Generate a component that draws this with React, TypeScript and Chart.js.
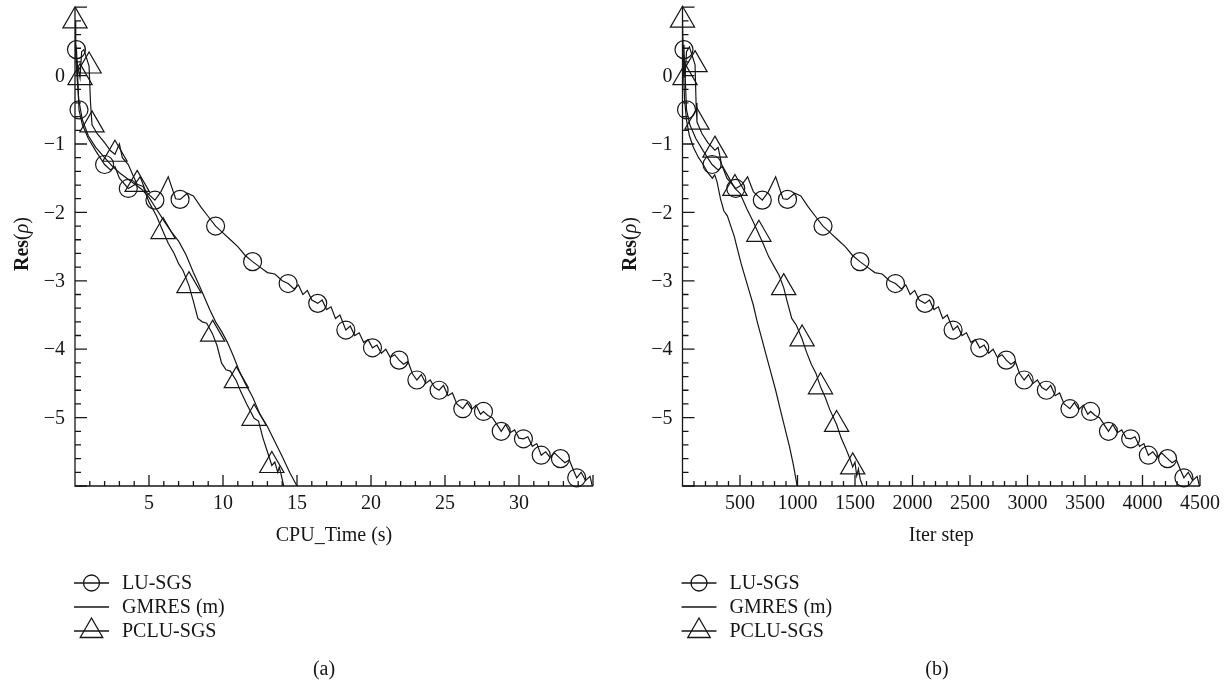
import React, { useEffect, useRef } from 'react';
import { Chart, registerables } from 'chart.js';
Chart.register(...registerables);

const FONT = '"Liberation Serif", "Times New Roman", serif';
const INK = '#161616';

// ---------- axes / labels ----------
const Y_MIN = -6;
const Y_MAX = 1;
const Y_LABELS = [0, -1, -2, -3, -4, -5];
const TIME_LABELS = [5, 10, 15, 20, 25, 30];
const ITER_LABELS = [500, 1000, 1500, 2000, 2500, 3000, 3500, 4000, 4500];
const SERIES_NAMES = ['LU-SGS', 'GMRES (m)', 'PCLU-SGS'];

// ---------- LU-SGS (same residual history, plotted vs time and vs iterations) ----------
const LU_Y = [
  0.45, 0.38, 0.0, -0.5, -0.72, -0.92, -1.1, -1.3, -1.38, -1.33, -1.5, -1.65, -1.6, -1.48, -1.7,
  -1.82, -1.7, -1.48, -1.8, -1.81, -1.72, -1.76, -1.92, -2.06, -2.2, -2.3, -2.4, -2.5, -2.63, -2.72,
  -2.8, -2.88, -2.9, -3.0, -3.04, -3.12, -3.06, -3.2, -3.14, -3.28, -3.33, -3.28, -3.42, -3.38, -3.55,
  -3.5, -3.72, -3.66, -3.8, -3.76, -3.9, -3.86, -3.98, -3.94, -4.06, -4.0, -4.12, -4.08, -4.16, -4.22,
  -4.18, -4.36, -4.45, -4.37, -4.5, -4.45, -4.56, -4.6, -4.53, -4.68, -4.64, -4.8, -4.87, -4.78, -4.88,
  -4.82, -4.95, -4.91, -4.97, -5.0, -5.1, -5.2, -5.1, -5.22, -5.18, -5.3, -5.31, -5.28, -5.42, -5.38,
  -5.55, -5.5, -5.58, -5.52, -5.6, -5.66, -5.62, -5.78, -5.88, -5.8, -5.92, -5.86, -6.0,
];
const LU_TIME = [
  0.05, 0.1, 0.18, 0.27, 0.5, 0.9, 1.4, 2.0, 2.4, 2.7, 3.0, 3.6, 4.0, 4.4, 4.8,
  5.4, 5.8, 6.3, 6.8, 7.1, 7.6, 8.0, 8.5, 9.0, 9.5, 10.0, 10.5, 11.0, 11.5, 12.0,
  12.5, 13.0, 13.5, 14.0, 14.4, 14.8, 15.1, 15.4, 15.7, 16.0, 16.4, 16.7, 17.0, 17.3, 17.6,
  17.9, 18.3, 18.6, 18.9, 19.2, 19.5, 19.8, 20.1, 20.4, 20.7, 21.0, 21.3, 21.6, 21.9, 22.2,
  22.5, 22.8, 23.1, 23.4, 23.7, 24.0, 24.3, 24.6, 24.9, 25.2, 25.5, 25.8, 26.2, 26.5, 26.8,
  27.1, 27.4, 27.6, 27.9, 28.2, 28.5, 28.8, 29.1, 29.4, 29.7, 30.0, 30.3, 30.6, 30.9, 31.2,
  31.5, 31.8, 32.1, 32.4, 32.8, 33.1, 33.4, 33.7, 33.9, 34.2, 34.5, 34.8, 34.95,
];
const LU_ITER = [
  6, 13, 23, 35, 64, 116, 180, 257, 309, 347, 386, 463, 514, 566, 617,
  694, 746, 810, 874, 913, 977, 1029, 1093, 1157, 1222, 1286, 1350, 1415, 1479, 1543,
  1608, 1672, 1736, 1800, 1852, 1903, 1942, 1980, 2019, 2058, 2109, 2148, 2186, 2225, 2263,
  2302, 2353, 2392, 2431, 2469, 2508, 2546, 2585, 2623, 2662, 2701, 2739, 2778, 2816, 2855,
  2894, 2932, 2971, 3009, 3048, 3086, 3125, 3164, 3202, 3241, 3279, 3318, 3369, 3408, 3446,
  3485, 3524, 3549, 3588, 3627, 3665, 3704, 3742, 3781, 3819, 3858, 3897, 3935, 3974, 4012,
  4051, 4089, 4128, 4167, 4218, 4257, 4295, 4334, 4360, 4398, 4437, 4475, 4495,
];
const LU_MARK_Y = [0.38, -0.5, -1.3, -1.65, -1.82, -1.81, -2.2, -2.72, -3.04, -3.33, -3.72, -3.98, -4.16, -4.45, -4.6, -4.87, -4.91, -5.2, -5.31, -5.55, -5.6, -5.88];
const LU_MARK_TIME = [0.1, 0.27, 2.0, 3.6, 5.4, 7.1, 9.5, 12.0, 14.4, 16.4, 18.3, 20.1, 21.9, 23.1, 24.6, 26.2, 27.6, 28.8, 30.3, 31.5, 32.8, 33.9];
const LU_MARK_ITER = [13, 35, 257, 463, 694, 913, 1222, 1543, 1852, 2109, 2353, 2585, 2816, 2971, 3164, 3369, 3549, 3704, 3897, 4051, 4218, 4360];

// ---------- GMRES (m) ----------
const GM_TIME = [0.0, 0.1, 0.25, 0.5, 0.9, 1.4, 2.0, 2.5, 3.0, 3.5, 4.0, 4.5, 5.0, 5.5, 6.0, 6.5, 7.0, 7.5, 8.0, 8.3, 8.7, 9.1, 9.5, 9.9, 10.3, 10.7, 11.1, 11.5, 12.0, 12.5, 13.0, 13.5, 14.0, 14.5, 15.0];
const GM_TIME_Y = [0.55, 0.1, -0.35, -0.65, -0.88, -1.05, -1.2, -1.32, -1.42, -1.5, -1.58, -1.66, -1.78, -1.95, -2.12, -2.28, -2.42, -2.62, -2.88, -3.02, -3.22, -3.42, -3.6, -3.74, -3.9, -4.1, -4.32, -4.5, -4.7, -4.95, -5.13, -5.35, -5.57, -5.8, -6.0];
const GM_ITER = [0, 8, 18, 35, 60, 95, 140, 180, 220, 260, 280, 300, 330, 360, 390, 420, 450, 475, 510, 545, 580, 615, 650, 690, 730, 770, 810, 850, 890, 930, 965, 997];
const GM_ITER_Y = [0.55, 0.1, -0.35, -0.65, -0.88, -1.05, -1.2, -1.3, -1.42, -1.5, -1.45, -1.55, -1.8, -1.98, -2.05, -2.2, -2.35, -2.52, -2.75, -2.95, -3.15, -3.35, -3.6, -3.85, -4.1, -4.35, -4.6, -4.88, -5.15, -5.42, -5.7, -6.0];

// ---------- PCLU-SGS ----------
const PC_TIME = [0.0, 0.05, 0.34, 0.45, 0.6, 0.95, 1.05, 1.15, 1.5, 2.0, 2.4, 2.7, 3.0, 3.2, 3.6, 3.9, 4.2, 4.6, 5.0, 5.5, 5.95, 6.3, 6.7, 7.0, 7.3, 7.7, 8.0, 8.3, 8.6, 8.9, 9.3, 9.6, 9.9, 10.2, 10.5, 10.9, 11.2, 11.6, 12.1, 12.4, 12.7, 13.0, 13.3, 13.5, 13.7, 13.8, 14.0, 14.1];
const PC_TIME_Y = [0.8, 0.3, -0.03, 0.35, 0.38, 0.14, -0.4, -0.72, -0.85, -0.98, -1.1, -1.15, -1.0, -1.2, -1.3, -1.45, -1.59, -1.62, -1.85, -2.05, -2.28, -2.45, -2.6, -2.75, -2.85, -3.07, -3.3, -3.55, -3.6, -3.62, -3.78, -3.95, -4.2, -4.3, -4.32, -4.46, -4.62, -4.8, -5.01, -5.05, -5.3, -5.5, -5.7, -5.65, -5.8, -5.72, -5.9, -6.0];
const PC_ITER = [0, 5, 22, 35, 60, 109, 118, 126, 170, 220, 282, 310, 340, 400, 456, 500, 560, 610, 664, 700, 750, 800, 840, 880, 910, 950, 990, 1040, 1080, 1120, 1160, 1200, 1240, 1280, 1340, 1380, 1420, 1460, 1480, 1500, 1515, 1530, 1545, 1567];
const PC_ITER_Y = [0.81, 0.3, -0.03, 0.35, 0.42, 0.16, -0.4, -0.68, -0.85, -0.98, -1.09, -1.05, -1.3, -1.48, -1.65, -1.72, -1.95, -2.12, -2.32, -2.45, -2.65, -2.8, -2.92, -3.1, -3.3, -3.55, -3.65, -3.85, -4.05, -4.22, -4.35, -4.55, -4.7, -4.88, -5.1, -5.3, -5.45, -5.62, -5.72, -5.65, -5.85, -5.75, -5.9, -6.0];
const PC_MARK_TIME = [0.0, 0.95, 0.34, 1.15, 2.7, 4.2, 5.95, 7.7, 9.3, 10.9, 12.1, 13.3];
const PC_MARK_TIME_Y = [0.8, 0.14, -0.03, -0.72, -1.15, -1.59, -2.28, -3.07, -3.78, -4.46, -5.01, -5.7];
const PC_MARK_ITER = [0, 109, 22, 126, 282, 456, 664, 880, 1040, 1200, 1340, 1480];
const PC_MARK_ITER_Y = [0.81, 0.16, -0.03, -0.68, -1.09, -1.65, -2.32, -3.1, -3.85, -4.55, -5.1, -5.72];

const zip = (xs: number[], ys: number[]) => xs.map((x, i) => ({ x, y: ys[i] }));

function drawTriangle(ctx: CanvasRenderingContext2D, x: number, y: number, r: number) {
  const s = Math.sin((2 * Math.PI) / 3) * r;
  ctx.beginPath();
  ctx.moveTo(x, y - r);
  ctx.lineTo(x + s, y + r / 2);
  ctx.lineTo(x - s, y + r / 2);
  ctx.closePath();
  ctx.stroke();
}

const decorPlugin = {
  id: 'decor',
  afterDraw(chart: any, _args: any, o: any) {
    const ctx: CanvasRenderingContext2D = chart.ctx;
    const xs = chart.scales.x;
    const ys = chart.scales.y;
    ctx.save();
    ctx.strokeStyle = INK;
    ctx.fillStyle = INK;
    ctx.lineWidth = 1.3;
    const x0 = xs.getPixelForValue(0);
    const x1 = xs.getPixelForValue(o.xMax);
    const yb = ys.getPixelForValue(Y_MIN);
    const yt = ys.getPixelForValue(Y_MAX);
    ctx.beginPath();
    ctx.moveTo(x0, yt);
    ctx.lineTo(x0, yb);
    ctx.lineTo(x1, yb);
    ctx.stroke();
    // y ticks (inward)
    ctx.beginPath();
    for (let k = Y_MIN * 5; k <= Y_MAX * 5; k++) {
      const py = ys.getPixelForValue(k / 5);
      const len = k % 5 === 0 ? 12 : 6;
      ctx.moveTo(x0, py);
      ctx.lineTo(x0 + len, py);
    }
    // x ticks (inward)
    const n = Math.round(o.xMax / o.minor);
    for (let i = 1; i <= n; i++) {
      const v = i * o.minor;
      const px = xs.getPixelForValue(v);
      const len = Math.abs(v / o.major - Math.round(v / o.major)) < 1e-9 ? 11 : 5;
      ctx.moveTo(px, yb);
      ctx.lineTo(px, yb - len);
    }
    ctx.stroke();
    // tick labels
    ctx.font = `20px ${FONT}`;
    ctx.textAlign = 'right';
    ctx.textBaseline = 'middle';
    Y_LABELS.forEach((v) => {
      const t = v < 0 ? '\u2212' + Math.abs(v) : String(v);
      ctx.fillText(t, x0 - 10, ys.getPixelForValue(v) + 1);
    });
    ctx.textAlign = 'center';
    ctx.textBaseline = 'top';
    o.xLabels.forEach((v: number) => ctx.fillText(String(v), xs.getPixelForValue(v), yb + 8));
    // x title
    ctx.textBaseline = 'middle';
    ctx.fillText(o.xTitle, (x0 + x1) / 2, 536);
    // caption
    ctx.fillText(o.caption, o.captionX, 670);
    // y title: bold Res, (ρ) with italic rho
    ctx.save();
    ctx.translate(x0 - 52, 244);
    ctx.rotate(-Math.PI / 2);
    const parts = [
      { t: 'Res', f: `bold 20px ${FONT}` },
      { t: '(', f: `20px ${FONT}` },
      { t: '\u03C1', f: `italic 20px ${FONT}` },
      { t: ')', f: `20px ${FONT}` },
    ];
    let total = 0;
    parts.forEach((p) => { ctx.font = p.f; total += ctx.measureText(p.t).width; });
    let cx = -total / 2;
    ctx.textAlign = 'left';
    parts.forEach((p) => { ctx.font = p.f; ctx.fillText(p.t, cx, 0); cx += ctx.measureText(p.t).width; });
    ctx.restore();
    // legend
    const lx0 = x0 - 1;
    const lx1 = x0 + 34;
    const lcx = (lx0 + lx1) / 2;
    const ly = [583, 607, 631];
    ctx.font = `20px ${FONT}`;
    ctx.textAlign = 'left';
    ctx.textBaseline = 'middle';
    SERIES_NAMES.forEach((name, i) => {
      const y = ly[i];
      ctx.beginPath();
      ctx.moveTo(lx0, y);
      ctx.lineTo(lx1, y);
      ctx.stroke();
      if (i === 0) {
        ctx.beginPath();
        ctx.arc(lcx, y, 8, 0, Math.PI * 2);
        ctx.stroke();
      } else if (i === 2) {
        drawTriangle(ctx, lcx, y, 13);
      }
      ctx.fillText(name, x0 + 47, y + 1);
    });
    ctx.restore();
  },
};

type Spec = {
  width: number;
  axisX: number;
  rightX: number;
  xMax: number;
  major: number;
  minor: number;
  xLabels: number[];
  xTitle: string;
  caption: string;
  captionX: number;
  lu: { x: number; y: number }[];
  luMarks: { x: number; y: number }[];
  gm: { x: number; y: number }[];
  pc: { x: number; y: number }[];
  pcMarks: { x: number; y: number }[];
};

const TOP = 7.2;
const BOTTOM = 486;

function Panel({ left, spec }: { left: number; spec: Spec }) {
  const ref = useRef<HTMLCanvasElement>(null);
  useEffect(() => {
    const line = (data: any[]) => ({
      data,
      showLine: true,
      borderColor: INK,
      borderWidth: 1.2,
      pointRadius: 0,
      pointHoverRadius: 0,
      tension: 0,
      fill: false,
    });
    const marks = (data: any[], style: string, r: number) => ({
      data,
      showLine: false,
      pointStyle: style,
      pointRadius: r,
      pointHoverRadius: r,
      pointBorderColor: INK,
      pointBackgroundColor: 'rgba(0,0,0,0)',
      pointBorderWidth: 1.2,
      clip: false,
    });
    const chart = new Chart(ref.current as HTMLCanvasElement, {
      type: 'scatter',
      data: {
        datasets: [
          line(spec.lu),
          line(spec.gm),
          line(spec.pc),
          marks(spec.luMarks, 'circle', 9),
          marks(spec.pcMarks, 'triangle', 14),
        ] as any,
      },
      options: {
        responsive: false,
        animation: false,
        devicePixelRatio: 1,
        events: [],
        layout: {
          autoPadding: false,
          padding: {
            left: spec.axisX,
            right: spec.width - spec.rightX,
            top: TOP,
            bottom: 690 - BOTTOM,
          },
        },
        scales: {
          x: { type: 'linear', min: 0, max: spec.xMax, display: false },
          y: { type: 'linear', min: Y_MIN, max: Y_MAX, display: false },
        },
        plugins: {
          legend: { display: false },
          tooltip: { enabled: false },
          decor: {
            xMax: spec.xMax,
            major: spec.major,
            minor: spec.minor,
            xLabels: spec.xLabels,
            xTitle: spec.xTitle,
            caption: spec.caption,
            captionX: spec.captionX,
          },
        } as any,
      } as any,
      plugins: [decorPlugin],
    });
    return () => chart.destroy();
  }, []);
  return (
    <canvas
      ref={ref}
      width={spec.width}
      height={690}
      style={{ position: 'absolute', left, top: 0, width: spec.width, height: 690 }}
    />
  );
}

const LEFT_SPEC: Spec = {
  width: 615,
  axisX: 75,
  rightX: 593,
  xMax: 35,
  major: 5,
  minor: 1,
  xLabels: TIME_LABELS,
  xTitle: 'CPU_Time (s)',
  caption: '(a)',
  captionX: 324,
  lu: zip(LU_TIME, LU_Y),
  luMarks: zip(LU_MARK_TIME, LU_MARK_Y),
  gm: zip(GM_TIME, GM_TIME_Y),
  pc: zip(PC_TIME, PC_TIME_Y),
  pcMarks: zip(PC_MARK_TIME, PC_MARK_TIME_Y),
};

const RIGHT_SPEC: Spec = {
  width: 616,
  axisX: 67.5,
  rightX: 585,
  xMax: 4500,
  major: 500,
  minor: 100,
  xLabels: ITER_LABELS,
  xTitle: 'Iter step',
  caption: '(b)',
  captionX: 322,
  lu: zip(LU_ITER, LU_Y),
  luMarks: zip(LU_MARK_ITER, LU_MARK_Y),
  gm: zip(GM_ITER, GM_ITER_Y),
  pc: zip(PC_ITER, PC_ITER_Y),
  pcMarks: zip(PC_MARK_ITER, PC_MARK_ITER_Y),
};

export default function App() {
  return (
    <div style={{ position: 'absolute', left: 0, top: 0, width: 1231, height: 690, background: '#fff' }}>
      <Panel left={0} spec={LEFT_SPEC} />
      <Panel left={615} spec={RIGHT_SPEC} />
    </div>
  );
}
